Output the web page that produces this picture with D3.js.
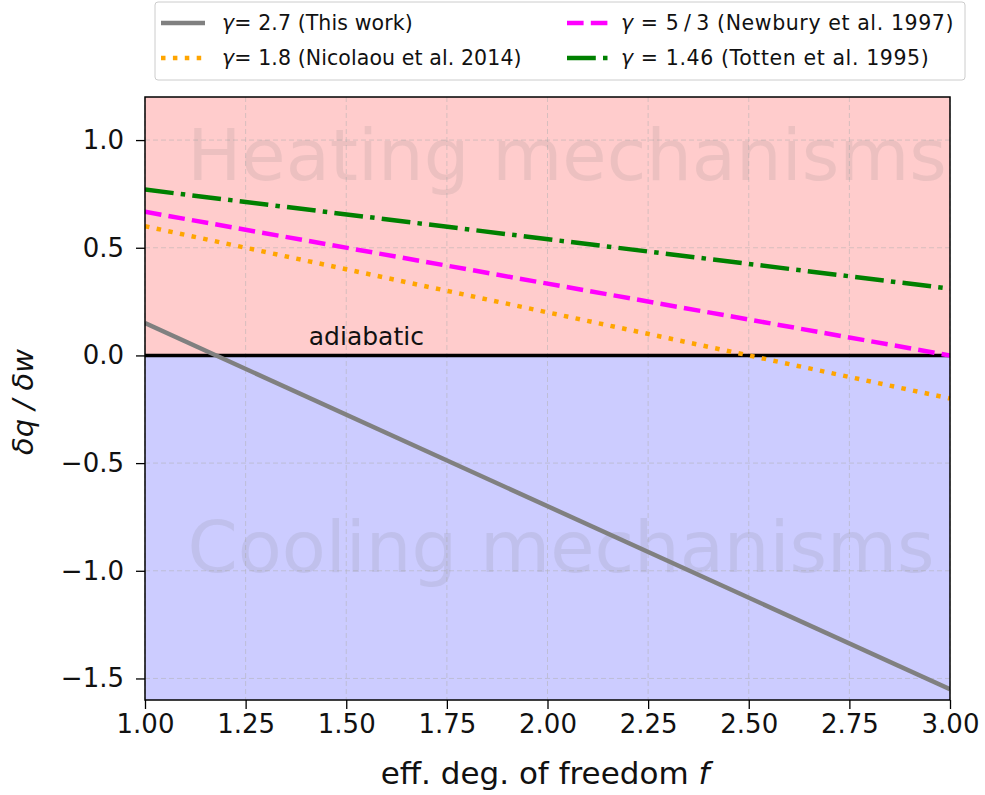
<!DOCTYPE html>
<html><head><meta charset="utf-8">
<script src="https://cdn.jsdelivr.net/npm/d3@7"></script>
<style>body{margin:0;background:#fff;} text{font-family:"DejaVu Sans",sans-serif;}</style>
</head><body><svg id="c" width="985" height="795"></svg>
<script>
// Data: endpoints of each straight line at f=1 and f=3
const fVals = [1.0, 3.0];
const gamma27 = [0.15, -1.55];
const gamma18 = [0.60, -0.20];
const gamma53 = [0.667, 0.0];
const gamma146 = [0.77, 0.31];
const seriesGamma = ["\u03b3", "\u03b3", "\u03b3", "\u03b3"];
const seriesRest = ["= 2.7 (This work)", "= 1.8 (Nicolaou et al. 2014)", " = 5\u2009/\u20093 (Newbury et al. 1997)", " = 1.46 (Totten et al. 1995)"];
const xTicks = [1.0, 1.25, 1.5, 1.75, 2.0, 2.25, 2.5, 2.75, 3.0];
const yTicks = [-1.5, -1.0, -0.5, 0.0, 0.5, 1.0];
const xDomain = [1.0, 3.0];
const yDomain = [-1.6, 1.2];

const svg = d3.select("#c");
const L = 145, R = 950, T = 97, B = 700;
const x = d3.scaleLinear().domain(xDomain).range([L, R]);
const y = d3.scaleLinear().domain(yDomain).range([B, T]);

// background regions
svg.append("rect").attr("x", L).attr("y", y(yDomain[1])).attr("width", R - L).attr("height", y(0) - y(yDomain[1])).attr("fill", "rgb(255,204,204)");
svg.append("rect").attr("x", L).attr("y", y(0)).attr("width", R - L).attr("height", y(yDomain[0]) - y(0)).attr("fill", "rgb(204,204,255)");

// grid
const grid = svg.append("g");
xTicks.forEach(t => grid.append("line").attr("x1", x(t)).attr("x2", x(t)).attr("y1", T).attr("y2", B)
  .attr("stroke", "#b0b0b0").attr("stroke-opacity", 0.5).attr("stroke-width", 1).attr("stroke-dasharray", "5,3"));
yTicks.forEach(t => grid.append("line").attr("x1", L).attr("x2", R).attr("y1", y(t)).attr("y2", y(t))
  .attr("stroke", "#b0b0b0").attr("stroke-opacity", 0.5).attr("stroke-width", 1).attr("stroke-dasharray", "5,3"));

// big background texts
svg.append("text").attr("x", 567).attr("y", 180).attr("text-anchor", "middle")
  .attr("font-size", 72).attr("fill", "#808080").attr("fill-opacity", 0.15).text("Heating mechanisms");
svg.append("text").attr("x", 561).attr("y", 572).attr("text-anchor", "middle")
  .attr("font-size", 72).attr("fill", "#808080").attr("fill-opacity", 0.15).text("Cooling mechanisms");

// adiabatic line
svg.append("line").attr("x1", L).attr("x2", R).attr("y1", y(0)).attr("y2", y(0)).attr("stroke", "#000").attr("stroke-width", 3.5);
svg.append("text").attr("x", x(1.55)).attr("y", 345).attr("text-anchor", "middle").attr("font-size", 25).attr("fill", "#111").text("adiabatic");

// series
const lw = 4.5;
const line = d3.line().x(d => x(d[0])).y(d => y(d[1]));
const series = [
  {v: gamma27, color: "#808080", dash: null},
  {v: gamma18, color: "#ffa500", dash: "4.5,7.4"},
  {v: gamma53, color: "#ff00ff", dash: "16.6,7.2"},
  {v: gamma146, color: "#008000", dash: "28.8,7.2,4.5,7.2"}
];
svg.append("clipPath").attr("id", "clp").append("rect").attr("x", L).attr("y", T).attr("width", R - L).attr("height", B - T);
const lg = svg.append("g").attr("clip-path", "url(#clp)");
series.forEach(s => {
  lg.append("path").datum(fVals.map((f, i) => [f, s.v[i]])).attr("d", line)
    .attr("fill", "none").attr("stroke", s.color).attr("stroke-width", lw)
    .attr("stroke-dasharray", s.dash).attr("stroke-linecap", "butt");
});

// frame
svg.append("rect").attr("x", L).attr("y", T).attr("width", R - L).attr("height", B - T).attr("fill", "none").attr("stroke", "#000").attr("stroke-width", 1.5);

// axes
const xa = svg.append("g").attr("transform", `translate(0,${B})`)
  .call(d3.axisBottom(x).tickValues(xTicks).tickFormat(d3.format(".2f")).tickSize(9).tickPadding(6));
const ya = svg.append("g").attr("transform", `translate(${L},0)`)
  .call(d3.axisLeft(y).tickValues(yTicks).tickFormat(d => d3.format(".1f")(d).replace("-", "\u2212")).tickSize(9).tickPadding(12));
[xa, ya].forEach(a => {
  a.select(".domain").remove();
  a.selectAll("line").attr("stroke", "#000").attr("stroke-width", 1.3);
  a.selectAll("text").attr("font-size", 26).attr("fill", "#111").style("font-family", "DejaVu Sans");
});

// axis labels
svg.append("text").attr("x", 545).attr("y", 784).attr("text-anchor", "middle").attr("font-size", 31).attr("fill", "#111")
  .html('eff. deg. of freedom <tspan font-style="italic">f</tspan>');
svg.append("text").attr("transform", `translate(33,402) rotate(-90)`).attr("text-anchor", "middle").attr("font-size", 29)
  .attr("font-style", "italic").attr("fill", "#111").text("\u03b4q / \u03b4w");

// legend
const leg = svg.append("g");
leg.append("rect").attr("x", 155).attr("y", 2).attr("width", 810).attr("height", 78).attr("fill", "#fff")
  .attr("stroke", "#ccc").attr("rx", 3);
const legPos = [[161, 23], [161, 58], [567, 23], [567, 58]];
series.forEach((s, i) => {
  const [lx, ly] = legPos[i];
  leg.append("line").attr("x1", lx).attr("x2", lx + 44).attr("y1", ly).attr("y2", ly)
    .attr("stroke", s.color).attr("stroke-width", lw).attr("stroke-dasharray", s.dash);
  const t = leg.append("text").attr("x", lx + (i < 2 ? 61 : 54)).attr("y", ly + 7).attr("font-size", 20.5)
    .attr("fill", "#111").attr("letter-spacing", i < 2 ? 0.1 : 0.6);
  t.append("tspan").attr("font-style", "italic").text(seriesGamma[i]);
  t.append("tspan").text(seriesRest[i]);
});
</script></body></html>
